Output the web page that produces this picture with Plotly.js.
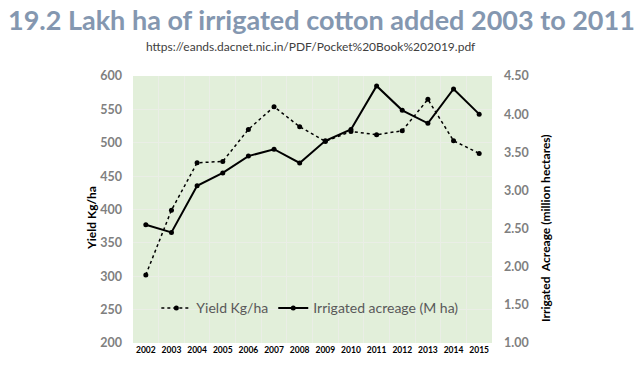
<!DOCTYPE html>
<html>
<head>
<meta charset="utf-8">
<script src="https://cdn.plot.ly/plotly-3.0.1.min.js"></script>
<style>html,body{margin:0;padding:0;background:#fff;}#chart{width:640px;height:377px;}</style>
</head>
<body>
<div id="chart"></div>
<script>
const years = ["2002","2003","2004","2005","2006","2007","2008","2009","2010","2011","2012","2013","2014","2015"];
const yieldKgHa = [302, 399, 470, 472, 520, 554, 524, 502, 517, 512, 518, 565, 503, 484];
const irrigatedMha = [2.55, 2.45, 3.06, 3.23, 3.45, 3.54, 3.36, 3.65, 3.80, 4.37, 4.05, 3.88, 4.33, 4.00];
const yieldTicks = [200, 250, 300, 350, 400, 450, 500, 550, 600];
const acreTicks = [1.0, 1.5, 2.0, 2.5, 3.0, 3.5, 4.0, 4.5];

const FONT = "Lato, 'Open Sans', sans-serif";

const traces = [
  {
    x: years, y: yieldKgHa, name: "Yield Kg/ha", type: "scatter", mode: "lines+markers",
    line: {color: "#000", width: 1.5, dash: "dot"},
    marker: {color: "#000", size: 5}
  },
  {
    x: years, y: irrigatedMha, name: "Irrigated acreage (M ha)", type: "scatter", mode: "lines+markers",
    yaxis: "y2",
    line: {color: "#000", width: 2},
    marker: {color: "#000", size: 5}
  }
];

const layout = {
  width: 640, height: 377,
  margin: {l: 133, r: 148, t: 76, b: 34},
  paper_bgcolor: "#fff",
  plot_bgcolor: "#E2EFDA",
  font: {family: FONT},
  showlegend: true,
  legend: {
    orientation: "h", x: 0.065, y: 0.13, xanchor: "left", yanchor: "middle",
    bgcolor: "rgba(0,0,0,0)", font: {size: 14, color: "#595959", family: FONT},
    itemwidth: 30, tracegroupgap: 0
  },
  xaxis: {
    type: "category", range: [-0.5, 13.5], tickson: "boundaries",
    showgrid: true, gridcolor: "#EAEEE6", gridwidth: 1,
    showline: false, zeroline: false, ticks: "", tickangle: 0,
    tickfont: {size: 8.5, color: "#000", family: FONT, weight: "bold"},
    fixedrange: true
  },
  yaxis: {
    range: [200, 600], tickvals: yieldTicks, ticktext: yieldTicks.map(String),
    showgrid: true, gridcolor: "#EAEEE6", gridwidth: 1, zeroline: false, showline: false, ticks: "",
    ticklabelstandoff: 10,
    tickfont: {size: 12.5, color: "#7F7F7F", family: FONT, weight: "bold"}
  },
  yaxis2: {
    range: [1, 4.5], tickvals: acreTicks, ticktext: acreTicks.map(v => v.toFixed(2)),
    overlaying: "y", side: "right", showgrid: false, zeroline: false, showline: false, ticks: "",
    ticklabelstandoff: 11,
    tickfont: {size: 12.5, color: "#7F7F7F", family: FONT, weight: "bold"}
  },
  annotations: [
    {text: "<b>19.2 Lakh ha of irrigated cotton added 2003 to 2011</b>", showarrow: false,
     font: {size: 27, color: "#8497B0", family: FONT}},
    {text: "https://eands.dacnet.nic.in/PDF/Pocket%20Book%202019.pdf", showarrow: false,
     font: {size: 12, color: "#404040", family: FONT}},
    {text: "<b>Yield Kg/ha</b>", textangle: -90, showarrow: false,
     font: {size: 12, color: "#000", family: FONT}},
    {text: "<b>Irrigated  Acreage (million hectares)</b>", textangle: -90, showarrow: false,
     font: {size: 12, color: "#000", family: FONT}}
  ]
};

// position annotations in pixel terms relative to the paper
const W = 640, H = 377, pl = 133, pr = 148, pt = 76, pb = 34;
const pw = W - pl - pr, ph = H - pt - pb;
function px(x){ return (x - pl) / pw; }
function py(y){ return (H - pb - y) / ph; }
const pos = [[321, 20], [311, 47], [91, 218], [545, 228]];
layout.annotations.forEach((a, i) => {
  a.xref = "paper"; a.yref = "paper";
  a.x = px(pos[i][0]); a.y = py(pos[i][1]);
  a.xanchor = "center"; a.yanchor = "middle";
});

Plotly.newPlot("chart", traces, layout, {displayModeBar: false, staticPlot: true});
</script>
</body>
</html>
